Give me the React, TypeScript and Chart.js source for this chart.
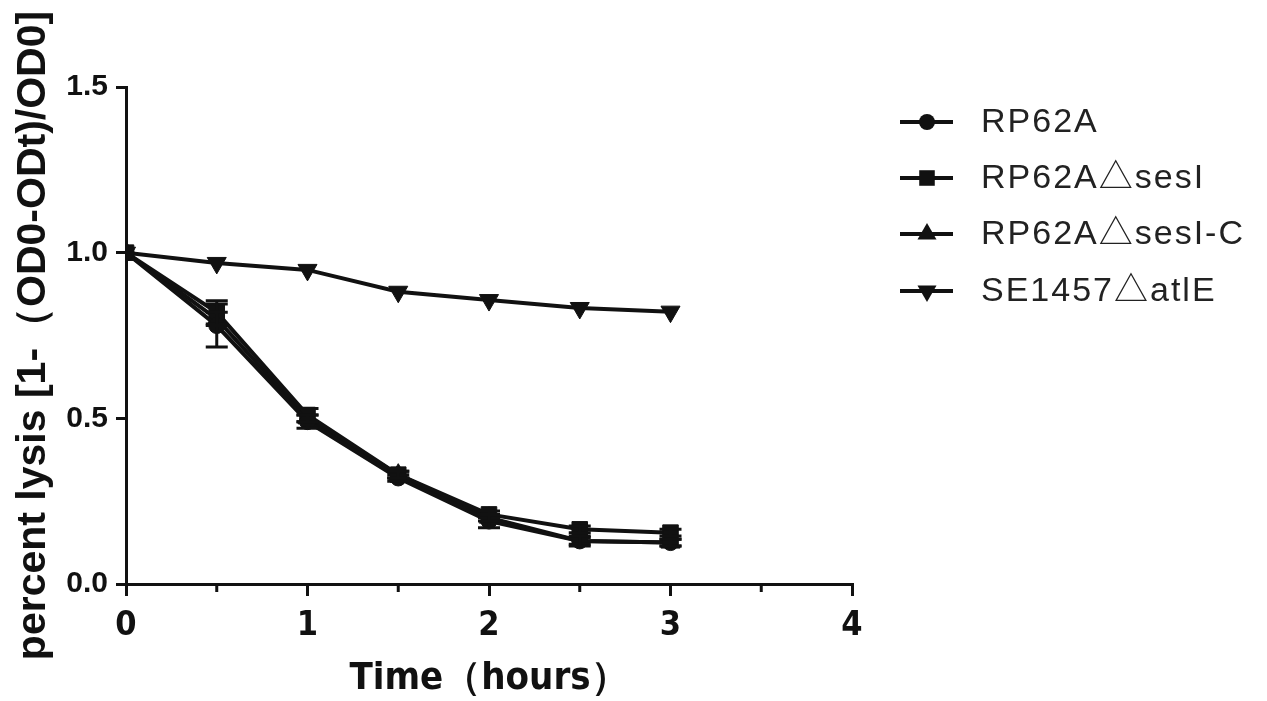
import React, { useEffect, useRef } from "react";
import { Chart, registerables } from "chart.js";

Chart.register(...registerables);

const times = [0, 0.5, 1, 1.5, 2, 2.5, 3];
const seriesLabels = ["RP62A", "RP62A△sesI", "RP62A△sesI-C", "SE1457△atlE"];
const rp62a = [1.0, 0.78, 0.49, 0.32, 0.19, 0.13, 0.125];
const rp62aErr = [0, 0.065, 0.02, 0.01, 0.02, 0.01, 0.01];
const sesI = [1.0, 0.82, 0.51, 0.33, 0.21, 0.165, 0.155];
const sesIErr = [0, 0.035, 0.02, 0.01, 0.01, 0.01, 0.01];
const sesIC = [1.0, 0.8, 0.5, 0.33, 0.2, 0.13, 0.125];
const sesICErr = [0, 0.02, 0.01, 0.01, 0.01, 0.015, 0.01];
const atlE = [1.0, 0.969, 0.948, 0.882, 0.857, 0.833, 0.822];
const atlEErr = [0, 0, 0, 0, 0, 0, 0];
const xTickLabels = ["0", "1", "2", "3", "4"];
const yTickLabels = ["0.0", "0.5", "1.0", "1.5"];

const INK = "#111";
const pointStyles = ["circle", "rect", "triangle", "triangle"];
const pointRotations = [0, 0, 0, 180];
const pointRadii = [8, 11, 11, 11];

function drawMarker(ctx: CanvasRenderingContext2D, style: string, r: number, rot: number, x: number, y: number) {
  ctx.beginPath();
  if (style === "circle") {
    ctx.arc(x, y, r, 0, Math.PI * 2);
  } else if (style === "rect") {
    const s = Math.SQRT1_2 * r;
    ctx.rect(x - s, y - s, 2 * s, 2 * s);
  } else {
    const a0 = (rot * Math.PI) / 180 - Math.PI / 2;
    for (let k = 0; k < 3; k++) {
      const a = a0 + (k * 2 * Math.PI) / 3;
      const px = x + Math.cos(a) * r;
      const py = y + Math.sin(a) * r;
      if (k === 0) ctx.moveTo(px, py);
      else ctx.lineTo(px, py);
    }
    ctx.closePath();
  }
  ctx.fill();
}

const errorBarPlugin = {
  id: "errorBars",
  afterDatasetsDraw(chart: any) {
    const { ctx, scales } = chart;
    const xs = scales.x;
    const ys = scales.y;
    chart.data.datasets.forEach((ds: any) => {
      const errs: number[] = ds.errors || [];
      ctx.save();
      ctx.strokeStyle = INK;
      ctx.lineWidth = 3;
      ds.data.forEach((p: any, i: number) => {
        const e = errs[i];
        if (!e) return;
        const px = xs.getPixelForValue(p.x);
        const top = ys.getPixelForValue(p.y + e);
        const bot = ys.getPixelForValue(p.y - e);
        ctx.beginPath();
        ctx.moveTo(px, top);
        ctx.lineTo(px, bot);
        ctx.moveTo(px - 11, top);
        ctx.lineTo(px + 11, top);
        ctx.moveTo(px - 11, bot);
        ctx.lineTo(px + 11, bot);
        ctx.stroke();
      });
      ctx.restore();
    });
  },
};

const minorTickPlugin = {
  id: "minorTicks",
  afterDraw(chart: any) {
    const { ctx, scales } = chart;
    const xs = scales.x;
    ctx.save();
    ctx.strokeStyle = INK;
    ctx.lineWidth = 3;
    xs.ticks.forEach((t: any) => {
      if (Number.isInteger(t.value)) return;
      const px = xs.getPixelForValue(t.value);
      ctx.beginPath();
      ctx.moveTo(px, xs.top);
      ctx.lineTo(px, xs.top + 8);
      ctx.stroke();
    });
    ctx.restore();
  },
};

const legendPlugin = {
  id: "sideLegend",
  afterDraw(chart: any) {
    const { ctx } = chart;
    const rows = [122, 178, 234, 291];
    chart.data.datasets.forEach((ds: any, i: number) => {
      const y = rows[i];
      ctx.save();
      ctx.strokeStyle = INK;
      ctx.fillStyle = INK;
      ctx.lineWidth = 4;
      ctx.beginPath();
      ctx.moveTo(900, y);
      ctx.lineTo(953, y);
      ctx.stroke();
      drawMarker(ctx, pointStyles[i], pointRadii[i], pointRotations[i], 927, y);
      ctx.fillStyle = "#222";
      ctx.font = '34px "Liberation Sans", "Noto Sans CJK SC", Arial, sans-serif';
      (ctx as any).letterSpacing = "2px";
      ctx.textBaseline = "middle";
      ctx.textAlign = "left";
      ctx.fillText(ds.label, 981, y + 1);
      ctx.restore();
    });
  },
};

export default function App() {
  const ref = useRef<HTMLCanvasElement | null>(null);
  useEffect(() => {
    document.body.style.margin = "0";
    const values = [rp62a, sesI, sesIC, atlE];
    const errors = [rp62aErr, sesIErr, sesICErr, atlEErr];
    const chart = new Chart(ref.current as HTMLCanvasElement, {
      type: "line",
      data: {
        datasets: seriesLabels.map((label, i) => ({
          label,
          data: times.map((t, j) => ({ x: t, y: values[i][j] })),
          errors: errors[i],
          borderColor: INK,
          backgroundColor: INK,
          borderWidth: 4,
          pointStyle: pointStyles[i],
          pointRotation: pointRotations[i],
          pointRadius: pointRadii[i],
          pointBorderWidth: 1,
          pointBackgroundColor: INK,
          pointBorderColor: INK,
          tension: 0,
        })) as any,
      },
      options: {
        animation: false,
        responsive: false,
        maintainAspectRatio: false,
        layout: { padding: { left: 0, top: 87, right: 415, bottom: 0 } },
        plugins: { legend: { display: false }, tooltip: { enabled: false } },
        scales: {
          x: {
            type: "linear",
            min: 0,
            max: 4,
            afterFit(scale: any) {
              scale.height = 117;
            },
            ticks: {
              stepSize: 0.5,
              autoSkip: false,
              maxRotation: 0,
              padding: 10,
              color: INK,
              font: { family: '"DejaVu Sans Condensed", "Liberation Sans Narrow", Arial, sans-serif', size: 34, weight: "bold" },
              callback: (v: any) => (Number.isInteger(v) ? xTickLabels[v] : ""),
            },
            grid: {
              drawOnChartArea: false,
              drawTicks: true,
              tickLength: 12,
              lineWidth: 3,
              color: INK,
              tickColor: (c: any) => (c.tick && Number.isInteger(c.tick.value) ? INK : "rgba(0,0,0,0)"),
            },
            border: { display: true, width: 3, color: INK },
            title: {
              display: true,
              text: "Time（hours）",
              color: INK,
              padding: { top: 0, bottom: 3 },
              font: { family: '"DejaVu Sans Condensed", "Liberation Sans Narrow", Arial, sans-serif', size: 38, weight: "bold", lineHeight: 1 },
            },
          },
          y: {
            type: "linear",
            min: 0,
            max: 1.5,
            afterFit(scale: any) {
              scale.width = 126;
            },
            ticks: {
              stepSize: 0.5,
              padding: 8,
              color: INK,
              font: { family: '"Liberation Sans", Arial, sans-serif', size: 30, weight: "bold" },
              callback: (v: any) => yTickLabels[Math.round(v * 2)],
            },
            grid: { drawOnChartArea: false, drawTicks: true, tickLength: 10, lineWidth: 3, color: INK },
            border: { display: true, width: 3, color: INK },
            title: {
              display: true,
              text: "percent lysis [1-（OD0-ODt)/OD0]",
              color: INK,
              padding: { top: 13, bottom: 0 },
              font: { family: '"Liberation Sans", Arial, sans-serif', size: 41, weight: "bold", lineHeight: 1 },
            },
          },
        },
      },
      plugins: [errorBarPlugin, minorTickPlugin, legendPlugin],
    });
    return () => chart.destroy();
  }, []);
  return (
    <div style={{ width: 1267, height: 701, background: "#fff" }}>
      <canvas ref={ref} width={1267} height={701} style={{ display: "block", width: 1267, height: 701 }} />
    </div>
  );
}
